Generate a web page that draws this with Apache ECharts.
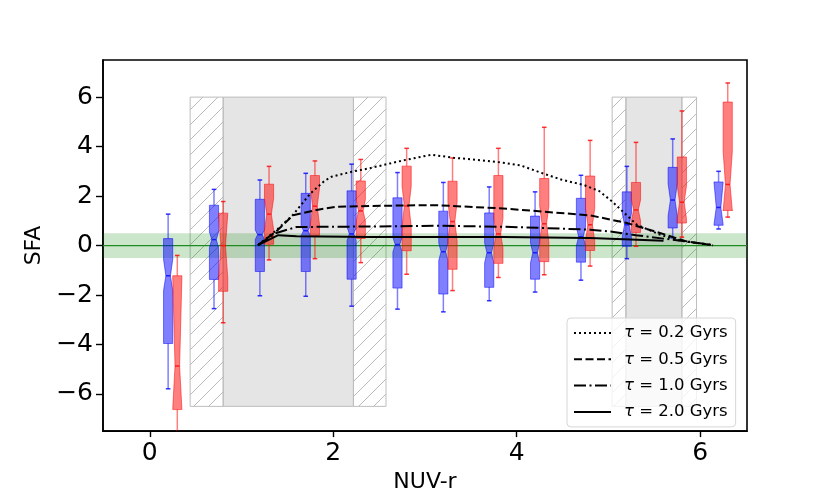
<!DOCTYPE html>
<html>
<head>
<meta charset="utf-8">
<title>SFA vs NUV-r</title>
<script src="https://cdn.jsdelivr.net/npm/echarts@6/dist/echarts.min.js"></script>
<style>
  html, body { margin: 0; padding: 0; background: #fff; }
  #chart { width: 830px; height: 498px; }
</style>
</head>
<body>
<div id="chart"></div>
<script>
// ── Data ────────────────────────────────────────────────────────────────────
var xTicks = [0, 2, 4, 6];
var yTicks = [-6, -4, -2, 0, 2, 4, 6];

// box rows: [x, whiskerLow, q1, median, q3, whiskerHigh, notchLow, notchHigh]
var blueBoxes = [
  [0.2, -5.79, -3.96, -1.22, 0.28, 1.27, -1.82, -0.56],
  [0.7, -2.55, -1.37, 0.24, 1.63, 2.27, -0.09, 0.55],
  [1.2, -2.03, -1.05, 0.44, 1.87, 2.65, 0.25, 0.62],
  [1.7, -2.05, -1.05, 0.60, 2.11, 2.92, 0.40, 0.80],
  [2.2, -2.45, -1.36, 0.47, 2.21, 3.29, 0.20, 0.75],
  [2.7, -2.57, -1.72, 0.04, 1.93, 2.95, -0.25, 0.33],
  [3.2, -2.68, -1.96, -0.25, 1.39, 2.55, -0.60, 0.10],
  [3.7, -2.23, -1.69, -0.29, 1.32, 2.37, -0.70, 0.10],
  [4.2, -1.88, -1.36, -0.29, 1.19, 2.17, -0.70, 0.10],
  [4.7, -1.40, -0.67, 0.35, 1.91, 2.84, 0.00, 0.75],
  [5.2, -0.53, -0.03, 0.84, 2.17, 3.20, 0.35, 1.30],
  [5.7, 0.31, 0.71, 1.84, 3.16, 4.31, 1.20, 2.50],
  [6.2, 0.67, 0.82, 1.54, 2.57, 3.00, 0.85, 2.55]
];
var redBoxes = [
  [0.3, -7.60, -6.63, -4.87, -1.22, -0.40, -6.60, -1.30],
  [0.8, -3.12, -1.85, 0.00, 1.31, 1.78, -1.30, 1.25],
  [1.3, -0.58, 0.05, 1.27, 2.48, 3.20, 0.64, 1.90],
  [1.8, -0.53, 0.41, 1.59, 2.83, 3.42, 0.84, 2.31],
  [2.3, -0.69, 0.29, 1.40, 2.61, 3.48, 1.00, 1.85],
  [2.8, -1.16, -0.21, 1.60, 3.21, 3.93, 0.75, 2.40],
  [3.3, -1.82, -0.96, 0.97, 2.60, 3.54, 0.20, 1.75],
  [3.8, -1.29, -0.72, 0.47, 2.83, 3.93, -0.10, 1.10],
  [4.3, -1.18, -0.65, 0.88, 2.71, 4.78, 0.15, 1.60],
  [4.8, -0.83, -0.20, 0.84, 2.81, 4.25, 0.20, 1.50],
  [5.3, -0.03, 0.53, 1.44, 2.55, 4.17, 1.00, 1.85],
  [5.8, 0.34, 0.91, 1.75, 3.58, 5.44, 1.10, 2.40],
  [6.3, 1.15, 1.42, 2.47, 5.80, 6.57, 1.40, 3.80]
];

// colour windows: [hatchStart, grayStart, grayEnd, hatchEnd, yBottom, yTop]
var windows = [
  [0.44, 0.80, 2.22, 2.575, -6.5, 6],
  [5.04, 5.19, 5.80, 5.96, -6.5, 6]
];
// green band around SFA = 0: [low, high, line]
var zeroBand = [[-0.5, 0.5, 0]];

// model tracks
var tau02 = [[1.18, 0.02], [1.38, 0.62], [1.56, 1.24], [1.75, 2.10], [1.90, 2.60], [1.98, 2.78],
  [2.20, 2.98], [2.40, 3.13], [2.76, 3.44], [3.07, 3.67], [3.31, 3.55], [3.60, 3.45], [3.85, 3.35],
  [4.04, 3.24], [4.29, 2.91], [4.50, 2.65], [4.73, 2.45], [4.90, 2.20], [5.04, 1.78], [5.31, 0.84],
  [5.56, 0.44], [5.78, 0.20], [6.14, 0.01]];
var tau05 = [[1.18, 0.02], [1.38, 0.58], [1.56, 1.22], [1.82, 1.44], [2.03, 1.57], [2.40, 1.60],
  [2.95, 1.63], [3.13, 1.63], [3.85, 1.50], [4.29, 1.37], [4.80, 1.22], [5.20, 0.91], [5.56, 0.51],
  [5.85, 0.17], [6.14, 0.01]];
var tau10 = [[1.18, 0.02], [1.38, 0.51], [1.60, 0.75], [2.40, 0.77], [3.13, 0.80], [3.85, 0.76],
  [4.29, 0.71], [4.80, 0.64], [5.04, 0.56], [5.30, 0.42], [5.60, 0.28], [5.90, 0.14], [6.14, 0.02]];
var tau20 = [[1.18, 0.02], [1.40, 0.42], [1.60, 0.38], [2.40, 0.35], [3.85, 0.35], [4.80, 0.31],
  [5.60, 0.19]];

var trackNames = ['τ = 0.2 Gyrs', 'τ = 0.5 Gyrs', 'τ = 1.0 Gyrs', 'τ = 2.0 Gyrs'];

// ── Drawing helpers ─────────────────────────────────────────────────────────
var BOX_W = 0.1;
var FONT = "'DejaVu Sans', sans-serif";

function hatchLines(x0, y0, x1, y1, step) {
  var out = [];
  var c = Math.ceil((x0 + y0) / step) * step;
  for (; c <= x1 + y1; c += step) {
    var xa = Math.max(x0, c - y1), xb = Math.min(x1, c - y0);
    if (xb - xa > 0.5) {
      out.push({ type: 'line', shape: { x1: xa, y1: c - xa, x2: xb, y2: c - xb },
        style: { stroke: '#a8a8a8', lineWidth: 0.8 } });
    }
  }
  return out;
}

function renderWindow(params, api) {
  var yt = api.coord([0, api.value(5)])[1];
  var yb = api.coord([0, api.value(4)])[1];
  var xs = [0, 1, 2, 3].map(function(i) { return api.coord([api.value(i), 0])[0]; });
  var border = { stroke: '#bdbdbd', lineWidth: 1 };
  var kids = [];
  kids.push({ type: 'rect', shape: { x: xs[1], y: yt, width: xs[2] - xs[1], height: yb - yt },
    style: { fill: '#e5e5e5', stroke: '#bdbdbd', lineWidth: 1 } });
  kids = kids.concat(hatchLines(xs[0], yt, xs[1], yb, 15));
  kids = kids.concat(hatchLines(xs[2], yt, xs[3], yb, 15));
  kids.push({ type: 'rect', shape: { x: xs[0], y: yt, width: xs[1] - xs[0], height: yb - yt },
    style: Object.assign({ fill: null }, border) });
  kids.push({ type: 'rect', shape: { x: xs[2], y: yt, width: xs[3] - xs[2], height: yb - yt },
    style: Object.assign({ fill: null }, border) });
  return { type: 'group', children: kids };
}

function renderBand(params, api) {
  var cs = params.coordSys;
  var yTop = api.coord([0, api.value(1)])[1];
  var yBot = api.coord([0, api.value(0)])[1];
  var y0 = api.coord([0, api.value(2)])[1];
  return { type: 'group', children: [
    { type: 'rect', shape: { x: cs.x, y: yTop, width: cs.width, height: yBot - yTop },
      style: { fill: 'rgba(0,128,0,0.2)' } },
    { type: 'line', shape: { x1: cs.x, y1: y0, x2: cs.x + cs.width, y2: y0 },
      style: { stroke: '#1f8a1f', lineWidth: 1.3 } }
  ] };
}

function boxRenderer(fill, edge, cap, med) {
  return function(params, api) {
    var x = api.value(0);
    var half = api.size([BOX_W, 0])[0] / 2;
    var cx = api.coord([x, 0])[0];
    function py(i) { return api.coord([x, api.value(i)])[1]; }
    var lo = py(1), q1 = py(2), md = py(3), q3 = py(4), hi = py(5), nlo = py(6), nhi = py(7);
    var L = cx - half, R = cx + half, l2 = cx - half / 2, r2 = cx + half / 2;
    return { type: 'group', children: [
      { type: 'line', shape: { x1: cx, y1: q1, x2: cx, y2: lo }, style: { stroke: edge, lineWidth: 1.5 } },
      { type: 'line', shape: { x1: cx, y1: q3, x2: cx, y2: hi }, style: { stroke: edge, lineWidth: 1.5 } },
      { type: 'line', shape: { x1: l2, y1: lo, x2: r2, y2: lo }, style: { stroke: cap, lineWidth: 1.5 } },
      { type: 'line', shape: { x1: l2, y1: hi, x2: r2, y2: hi }, style: { stroke: cap, lineWidth: 1.5 } },
      { type: 'polygon', shape: { points: [[L, q1], [R, q1], [R, nlo], [r2, md], [R, nhi], [R, q3],
          [L, q3], [L, nhi], [l2, md], [L, nlo]] },
        style: { fill: fill, stroke: edge, lineWidth: 1 } },
      { type: 'line', shape: { x1: l2, y1: md, x2: r2, y2: md }, style: { stroke: med, lineWidth: 1.5 } }
    ] };
  };
}

function track(name, data, dash) {
  return {
    type: 'line', name: name, data: data, symbol: 'none', showSymbol: false, z: 6,
    clip: true, silent: true,
    lineStyle: { color: '#000', width: 2, type: dash },
    itemStyle: { color: '#000' }
  };
}

// ── Chart ───────────────────────────────────────────────────────────────────
var chart = echarts.init(document.getElementById('chart'), null, { renderer: 'canvas' });

chart.setOption({
  animation: false,
  backgroundColor: '#fff',
  textStyle: { fontFamily: FONT, color: '#000' },
  grid: { left: 103, right: 83, top: 60, bottom: 63, show: true, borderColor: '#000', borderWidth: 1.6 },
  xAxis: {
    type: 'value', min: -0.51, max: 6.51,
    name: 'NUV-r', nameLocation: 'middle', nameGap: 28,
    nameTextStyle: { fontSize: 22, color: '#000', fontFamily: FONT },
    axisLine: { show: true, onZero: false, lineStyle: { color: '#000', width: 1.6 } },
    axisTick: { show: true, customValues: xTicks, length: 6, lineStyle: { color: '#000', width: 1.4 } },
    axisLabel: { customValues: xTicks, fontSize: 25, color: '#000', margin: 10, fontFamily: FONT },
    splitLine: { show: false }
  },
  yAxis: {
    type: 'value', min: -7.5, max: 7.5,
    name: 'SFA', nameLocation: 'middle', nameGap: 53,
    nameTextStyle: { fontSize: 22, color: '#000', fontFamily: FONT },
    axisLine: { show: true, onZero: false, lineStyle: { color: '#000', width: 1.6 } },
    axisTick: { show: true, customValues: yTicks, length: 7, lineStyle: { color: '#000', width: 1.4 } },
    axisLabel: { customValues: yTicks, fontSize: 25, color: '#000', margin: 10, fontFamily: FONT,
      formatter: function(v) { return v < 0 ? '\u2212' + Math.abs(v) : String(v); } },
    splitLine: { show: false }
  },
  legend: {
    data: trackNames,
    orient: 'vertical', left: 567, top: 318,
    padding: [5, 8, 5, 6],
    itemWidth: 37, itemHeight: 14, itemGap: 6.3,
    backgroundColor: 'rgba(255,255,255,0.8)',
    borderColor: '#d6d6d6', borderWidth: 1, borderRadius: 4,
    itemStyle: { color: 'rgba(0,0,0,0)', borderWidth: 0, opacity: 0 },
    formatter: function(name) { return '{i|τ}{r|' + name.slice(1) + '}'; },
    textStyle: {
      fontSize: 16.5, color: '#000', fontFamily: FONT, lineHeight: 20,
      rich: {
        i: { fontStyle: 'italic', fontSize: 16.5, fontFamily: FONT, color: '#000', padding: [0, 0, 0, 8] },
        r: { fontSize: 16.5, fontFamily: FONT, color: '#000' }
      }
    },
    selectedMode: false
  },
  series: [
    { type: 'custom', name: 'windows', data: windows, renderItem: renderWindow, z: 1, silent: true, clip: true },
    { type: 'custom', name: 'band', data: zeroBand, renderItem: renderBand, z: 2, silent: true, clip: true },
    { type: 'custom', name: 'blue', data: blueBoxes, z: 3, silent: true, clip: true,
      renderItem: boxRenderer('rgba(0,0,255,0.5)', 'rgba(0,0,255,0.5)', 'rgba(0,0,255,0.8)', '#1a1aff') },
    { type: 'custom', name: 'red', data: redBoxes, z: 4, silent: true, clip: true,
      renderItem: boxRenderer('rgba(255,0,0,0.5)', 'rgba(255,0,0,0.5)', 'rgba(255,0,0,0.8)', '#ff1a1a') },
    track(trackNames[0], tau02, [2, 3]),
    track(trackNames[1], tau05, [8, 3.5]),
    track(trackNames[2], tau10, [12, 3.5, 2, 3.5]),
    track(trackNames[3], tau20, 'solid')
  ]
});
</script>
</body>
</html>
